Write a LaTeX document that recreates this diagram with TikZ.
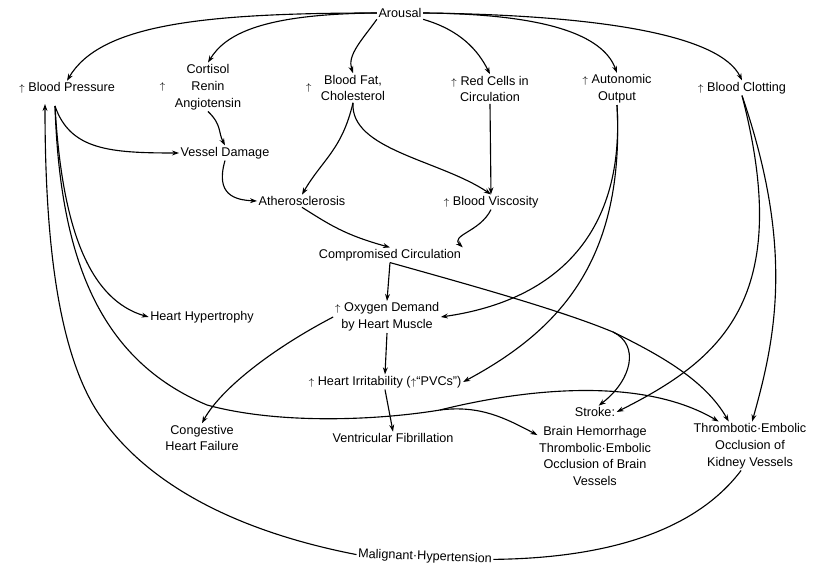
\documentclass[tikz,border=0pt]{standalone}
\usepackage{fontspec}
\setmainfont{Liberation Sans}
\usetikzlibrary{arrows.meta}
\newcommand{\up}{{\scriptsize$\uparrow$}}
\tikzset{
    factor/.style={font=\fontsize{9}{12}\selectfont, align=center, inner sep=1pt},
    link/.style={-{Stealth[length=5pt,width=3.5pt]}, line width=0.8pt},
    plain/.style={line width=0.8pt},
}
\begin{document}
\begin{tikzpicture}[x=0.025cm, y=-0.025cm]
                \useasboundingbox (0,0) rectangle (818,569);
                \node[factor] (arousal) at (400,13) {Arousal};
                \node[factor] (bp) at (67,88) {\up\ Blood Pressure};
                \node[factor, label={[label distance=2pt]left:\up}] (cort) at (208,87) {Cortisol\\Renin\\Angiotensin};
                \node[factor, label={[label distance=2pt]left:\up}] (fat) at (353,88) {Blood Fat,\\Cholesterol};
                \node[factor] (red) at (490,89) {\up\ Red Cells in\\Circulation};
                \node[factor] (auto) at (617,89) {\up\ Autonomic\\Output};
                \node[factor] (clot) at (742,88) {\up\ Blood Clotting};
                \node[factor] (vd) at (225,153) {Vessel Damage};
                \node[factor] (ath) at (302,201) {Atherosclerosis};
                \node[factor] (visc) at (491,202) {\up\ Blood Viscosity};
                \node[factor] (comp) at (390,255) {Compromised Circulation};
                \node[factor] (oxy) at (387,317) {\up\ Oxygen Demand\\by Heart Muscle};
                \node[factor] (hh) at (202,317) {Heart Hypertrophy};
                \node[factor] (irr) at (385,382) {\up\ Heart Irritability (\up``PVCs'')};
                \node[factor] (vf) at (393,438) {Ventricular Fibrillation};
                \node[factor] (chf) at (202,438) {Congestive\\Heart Failure};
                \node[factor] (stroke) at (595,412) {Stroke:};
                \node[factor] (brain) at (595,456) {Brain Hemorrhage\\Thrombolic·Embolic\\Occlusion of Brain\\Vessels};
                \node[factor] (kid) at (750,446) {Thrombotic·Embolic\\Occlusion of\\Kidney Vessels};
                \node[factor, rotate=-2] (mal) at (425,557) {Malignant·Hypertension};
                \coordinate (bpin) at (45,104);
                \coordinate (bpout) at (55,106);
                \coordinate (bpfork) at (440,410);
                \coordinate (compfork) at (613,332);
                % arousal
                \draw[link] (arousal.west) .. controls (200,13) and (100,25) .. (bp.north);
                \draw[link] (arousal.west) .. controls (260,14) and (225,35) .. (cort.north);
                \draw[link] (arousal.south west) .. controls (362,40) and (347,55) .. (fat.north);
                \draw[link] (arousal.south east) .. controls (460,30) and (478,50) .. (red.north);
                \draw[link] (arousal.east) .. controls (560,14) and (605,40) .. (auto.north);
                \draw[link] (arousal.east) .. controls (600,15) and (720,35) .. (clot.north);
                % upper chain
                \draw[link] (cort.south) .. controls (222,125) and (218,132) .. (vd.north);
                \draw[link] (bpout) .. controls (70,150) and (110,153) .. (vd.west);
                \draw[link] (vd.south) .. controls (215,195) and (235,200) .. (ath.west);
                \draw[link] (fat.south) .. controls (342,150) and (322,160) .. (ath.north);
                \draw[link] (fat.south) .. controls (350,150) and (440,160) .. (visc.north);
                \draw[link] (red.south) -- (visc.north);
                \draw[link] (ath.south) .. controls (330,225) and (345,235) .. (comp.north);
                \draw[link] (visc.south) .. controls (480,232) and (450,235) .. (comp.north east);
                \draw[link] (comp.south) -- (oxy.north);
                \draw[link] (oxy.south) -- (irr.north);
                \draw[link] (irr.south) -- (vf.north);
                \draw[link] (oxy.west) .. controls (270,350) and (220,390) .. (chf.north);
                % autonomic and clotting
                \draw[link] (auto.south) .. controls (625,230) and (560,300) .. (oxy.east);
                \draw[link] (auto.south) .. controls (625,260) and (560,330) .. (irr.east);
                \draw[link] (clot.south) .. controls (795,300) and (720,360) .. (stroke.east);
                \draw[link] (clot.south) .. controls (795,250) and (775,340) .. (kid.85);
                % compromised circulation
                \draw[plain] (comp.south) .. controls (470,285) and (560,310) .. (compfork);
                \draw[link] (compfork) .. controls (660,355) and (705,380) .. (kid.131);
                \draw[link] (compfork) .. controls (640,345) and (632,380) .. (stroke.60);
                % blood pressure
                \draw[link] (bpout) .. controls (62,230) and (90,300) .. (hh.west);
                \draw[plain] (bpout) .. controls (60,260) and (100,360) .. (207,405)
                    .. controls (280,425) and (380,420) .. (bpfork);
                \draw[link] (bpfork) .. controls (480,405) and (505,418) .. (brain.160);
                \draw[link] (bpfork) .. controls (520,390) and (640,375) .. (kid.142);
                \draw[plain] (kid.250) .. controls (700,525) and (620,558) .. (mal.east);
                \draw[link] (mal.west) .. controls (230,530) and (140,480) .. (95,408)
                    .. controls (60,350) and (45,250) .. (bpin);
            \end{tikzpicture}
\end{document}
